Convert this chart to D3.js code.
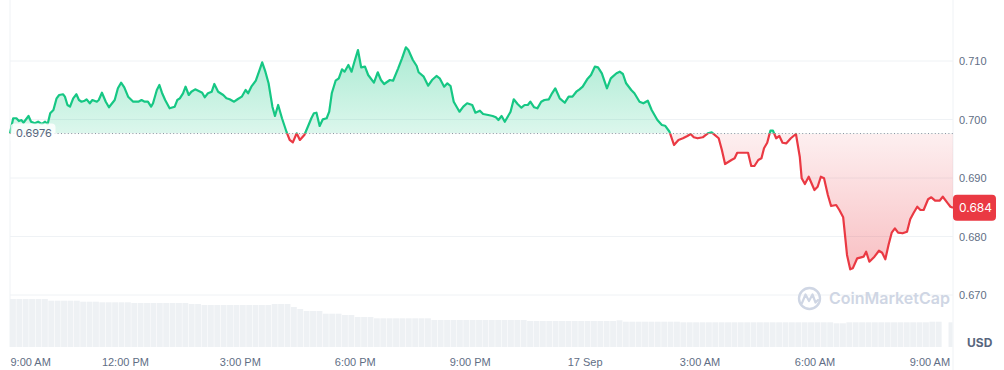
<!DOCTYPE html>
<html>
<head>
<meta charset="utf-8">
<script src="https://cdn.jsdelivr.net/npm/d3@7"></script>
<style>
  body { margin: 0; background: #fff; }
  svg { display: block; font-family: Inter, "Noto Sans", sans-serif; }
</style>
</head>
<body>
<div id="chart"></div>
<script>
// price track, minutes after 9:00 AM on 16 Sep
var minutes = [
  0, 5, 10, 14, 18, 21, 29, 33, 39, 44, 50, 55, 59, 63, 68, 73, 77, 83, 86, 90,
  94, 99, 104, 108, 112, 117, 120, 125, 129, 136, 139, 144, 150, 155, 164, 169, 174, 179, 185, 193,
  201, 206, 211, 216, 221, 224, 230, 234, 238, 243, 250, 258, 262, 266, 271, 275, 280, 284, 290, 298,
  301, 305, 310, 316, 320, 326, 334, 339, 344, 351, 357, 363, 369, 373, 378, 385, 390, 395, 400, 405,
  411, 415, 420, 426, 433, 438, 443, 449, 454, 461, 467, 472, 476, 480, 485, 490, 496, 500, 504, 510,
  515, 520, 524, 530, 535, 539, 545, 550, 556, 561, 570, 576, 581, 586, 595, 600, 608, 614, 620, 624,
  631, 637, 640, 648, 655, 661, 668, 673, 680, 685, 690, 695, 704, 710, 716, 724, 729, 736, 741, 749,
  756, 761, 765, 770, 775, 784, 789, 795, 801, 806, 811, 815, 821, 826, 832, 837, 844, 849, 854, 861,
  869, 875, 881, 887, 892, 897, 904, 910, 916, 921, 927, 935, 941, 944, 950, 955, 960, 965, 973, 978,
  986, 992, 999, 1005, 1014, 1021, 1026, 1033, 1040, 1047, 1054, 1061, 1066, 1071, 1077, 1085, 1093, 1099, 1110, 1115,
  1120, 1130, 1135, 1139, 1148, 1156, 1161, 1166, 1172, 1177, 1181, 1186, 1191, 1195, 1200, 1205, 1210, 1216, 1223, 1231,
  1237, 1240, 1245, 1251, 1260, 1265, 1270, 1275, 1281, 1286, 1294, 1299, 1305, 1311, 1316, 1320, 1327, 1333, 1337, 1341,
  1346, 1354, 1361, 1366, 1371, 1376, 1381, 1386, 1391, 1398, 1405, 1410, 1415, 1421, 1426, 1431, 1438, 1443, 1449, 1456,
  1461, 1468, 1473, 1477];
var prices = [
  0.69760, 0.70021, 0.70021, 0.69974, 0.69991, 0.69945, 0.70060, 0.69962, 0.69935, 0.69962, 0.69923, 0.69962, 0.69923, 0.70106, 0.70162, 0.70362, 0.70419, 0.70431, 0.70390, 0.70248,
  0.70219, 0.70362, 0.70431, 0.70333, 0.70304, 0.70321, 0.70345, 0.70277, 0.70333, 0.70304, 0.70333, 0.70458, 0.70304, 0.70209, 0.70333, 0.70533, 0.70629, 0.70550, 0.70390, 0.70304,
  0.70304, 0.70333, 0.70304, 0.70304, 0.70219, 0.70277, 0.70504, 0.70590, 0.70458, 0.70333, 0.70191, 0.70219, 0.70333, 0.70362, 0.70448, 0.70561, 0.70419, 0.70475, 0.70516, 0.70475,
  0.70458, 0.70379, 0.70448, 0.70475, 0.70607, 0.70475, 0.70419, 0.70362, 0.70345, 0.70304, 0.70350, 0.70390, 0.70504, 0.70448, 0.70561, 0.70663, 0.70817, 0.70978, 0.70817, 0.70619,
  0.70219, 0.70060, 0.70248, 0.70021, 0.69791, 0.69650, 0.69610, 0.69764, 0.69650, 0.69735, 0.69889, 0.70021, 0.70106, 0.70116, 0.69889, 0.70003, 0.70021, 0.70133, 0.70448, 0.70663,
  0.70704, 0.70858, 0.70817, 0.70932, 0.70817, 0.70971, 0.71188, 0.70892, 0.70903, 0.70761, 0.70629, 0.70807, 0.70675, 0.70607, 0.70675, 0.70663, 0.70875, 0.71046, 0.71234, 0.71188,
  0.71017, 0.70915, 0.70807, 0.70732, 0.70578, 0.70675, 0.70744, 0.70704, 0.70561, 0.70619, 0.70573, 0.70304, 0.70133, 0.70219, 0.70277, 0.70248, 0.70116, 0.70150, 0.70094, 0.70077,
  0.70060, 0.70038, 0.69991, 0.70060, 0.69962, 0.70133, 0.70345, 0.70265, 0.70202, 0.70248, 0.70248, 0.70304, 0.70209, 0.70191, 0.70304, 0.70333, 0.70345, 0.70448, 0.70533, 0.70362,
  0.70287, 0.70390, 0.70390, 0.70475, 0.70516, 0.70561, 0.70687, 0.70761, 0.70903, 0.70892, 0.70790, 0.70533, 0.70704, 0.70732, 0.70790, 0.70817, 0.70778, 0.70619, 0.70504, 0.70448,
  0.70304, 0.70277, 0.70321, 0.70162, 0.69991, 0.69906, 0.69894, 0.69791, 0.69564, 0.69650, 0.69679, 0.69718, 0.69752, 0.69696, 0.69679, 0.69696, 0.69764, 0.69781, 0.69679, 0.69479,
  0.69239, 0.69308, 0.69337, 0.69432, 0.69432, 0.69432, 0.69205, 0.69205, 0.69308, 0.69337, 0.69508, 0.69603, 0.69809, 0.69809, 0.69679, 0.69718, 0.69603, 0.69593, 0.69679, 0.69752,
  0.69364, 0.68995, 0.68897, 0.69022, 0.68795, 0.68851, 0.69022, 0.68995, 0.68709, 0.68521, 0.68538, 0.68453, 0.68328, 0.67684, 0.67439, 0.67456, 0.67627, 0.67644, 0.67655, 0.67740,
  0.67569, 0.67655, 0.67757, 0.67723, 0.67610, 0.67855, 0.68065, 0.68140, 0.68065, 0.68055, 0.68082, 0.68294, 0.68397, 0.68509, 0.68453, 0.68453, 0.68636, 0.68670, 0.68612, 0.68612,
  0.68680, 0.68578, 0.68509, 0.68490];
var openPrice = 0.6976;

// rolling 24h volume (millions), one bar per 10 minutes
var volumes = [
  480, 480, 480, 480, 480, 480, 463, 463, 463, 463, 463, 453, 453, 453, 447, 447, 447, 447, 447, 440,
  440, 440, 440, 440, 440, 440, 440, 440, 430, 430, 420, 420, 420, 420, 420, 420, 420, 420, 420, 420,
  420, 430, 430, 430, 400, 380, 360, 360, 360, 333, 333, 333, 320, 320, 300, 300, 300, 287, 287, 287,
  287, 287, 287, 287, 287, 287, 270, 270, 270, 270, 270, 270, 270, 270, 270, 270, 270, 270, 270, 270,
  270, 260, 260, 260, 260, 260, 260, 260, 260, 260, 260, 260, 260, 260, 260, 267, 253, 253, 253, 253,
  253, 253, 253, 253, 253, 247, 247, 247, 247, 247, 247, 247, 247, 247, 247, 247, 247, 247, 247, 247,
  247, 247, 247, 247, 247, 247, 247, 247, 247, 237, 237, 247, 247, 247, 247, 247, 247, 247, 247, 247,
  247, 247, 247, 247, 253, 253, 0, 247];
var volStep = 10;

var priceTicks = [0.670, 0.680, 0.690, 0.700, 0.710];
var timeTickMinutes = [0, 180, 360, 540, 720, 900, 1080, 1260, 1440];
var timeLabels = ["9:00 AM", "12:00 PM", "3:00 PM", "6:00 PM", "9:00 PM", "17 Sep", "3:00 AM", "6:00 AM", "9:00 AM"];

var width = 1004, height = 370;
var left = 10, right = 953;
var start = new Date(2024, 8, 16, 9, 0);
function at(m) { return new Date(start.getTime() + m * 60000); }

var x = d3.scaleTime().domain([start, at(1477)]).range([left, right]);
var y = d3.scaleLinear().domain([0.670, 0.710]).range([295, 61]);
var yv = d3.scaleLinear().domain([0, 490]).range([347, 298]);

var green = "#16c784", red = "#ea3943", grid = "#eff2f5", textGray = "#616e85";

var svg = d3.select("#chart").append("svg")
  .attr("width", width)
  .attr("height", height);

var defs = svg.append("defs");
var yBase = y(openPrice);

// gradients for the two fills
var gUp = defs.append("linearGradient").attr("id", "gUp")
  .attr("gradientUnits", "userSpaceOnUse")
  .attr("x1", 0).attr("x2", 0).attr("y1", y(d3.max(prices))).attr("y2", yBase);
gUp.append("stop").attr("offset", 0).attr("stop-color", green).attr("stop-opacity", 0.36);
gUp.append("stop").attr("offset", 1).attr("stop-color", green).attr("stop-opacity", 0.15);

var gDown = defs.append("linearGradient").attr("id", "gDown")
  .attr("gradientUnits", "userSpaceOnUse")
  .attr("x1", 0).attr("x2", 0).attr("y1", yBase).attr("y2", y(d3.min(prices)));
gDown.append("stop").attr("offset", 0).attr("stop-color", red).attr("stop-opacity", 0.08);
gDown.append("stop").attr("offset", 1).attr("stop-color", red).attr("stop-opacity", 0.32);

defs.append("clipPath").attr("id", "above")
  .append("rect").attr("x", 0).attr("y", 0).attr("width", width).attr("height", yBase);
defs.append("clipPath").attr("id", "below")
  .append("rect").attr("x", 0).attr("y", yBase).attr("width", width).attr("height", height - yBase);

// grid lines
svg.selectAll(".grid").data(priceTicks).enter().append("line")
  .attr("x1", left).attr("x2", right)
  .attr("y1", function (d) { return y(d); })
  .attr("y2", function (d) { return y(d); })
  .attr("stroke", grid).attr("stroke-width", 1);

svg.append("line").attr("x1", left).attr("x2", left).attr("y1", 0).attr("y2", 347)
  .attr("stroke", grid);
svg.append("line").attr("x1", right).attr("x2", right).attr("y1", 0).attr("y2", height)
  .attr("stroke", grid);

// volume bars
svg.selectAll(".vol").data(volumes).enter().append("rect")
  .attr("x", function (d, i) { return x(at(i * volStep)); })
  .attr("y", function (d) { return yv(d); })
  .attr("width", function (d, i) { return Math.max(0, Math.min(right, x(at((i + 1) * volStep))) - x(at(i * volStep)) - 0.5); })
  .attr("height", function (d) { return yv(0) - yv(d); })
  .attr("fill", "#eef1f4");

var pts = minutes.map(function (m, i) { return [m, prices[i]]; });

var area = d3.area()
  .x(function (d) { return x(at(d[0])); })
  .y0(yBase)
  .y1(function (d) { return y(d[1]); });
var line = d3.line()
  .x(function (d) { return x(at(d[0])); })
  .y(function (d) { return y(d[1]); });

svg.append("path").datum(pts).attr("d", area)
  .attr("fill", "url(#gUp)").attr("clip-path", "url(#above)");
svg.append("path").datum(pts).attr("d", area)
  .attr("fill", "url(#gDown)").attr("clip-path", "url(#below)");

// open price dotted line
svg.append("line").attr("x1", left).attr("x2", right)
  .attr("y1", yBase).attr("y2", yBase)
  .attr("stroke", "#8a93a3").attr("stroke-width", 1)
  .attr("stroke-dasharray", "1 2.4");

svg.append("path").datum(pts).attr("d", line)
  .attr("fill", "none").attr("stroke", green).attr("stroke-width", 2.2)
  .attr("stroke-linejoin", "round").attr("clip-path", "url(#above)");
svg.append("path").datum(pts).attr("d", line)
  .attr("fill", "none").attr("stroke", red).attr("stroke-width", 2.2)
  .attr("stroke-linejoin", "round").attr("clip-path", "url(#below)");

// open price tag
svg.append("rect").attr("x", 10.5).attr("y", yBase - 10).attr("width", 45).attr("height", 20)
  .attr("rx", 4).attr("fill", "#fff").attr("fill-opacity", 0.82);
svg.append("text").attr("x", 16).attr("y", yBase).attr("dy", "0.35em")
  .attr("font-size", 11).attr("fill", "#58667e")
  .text(d3.format(".4f")(openPrice));

// y axis on the right
var yAxis = svg.append("g").attr("transform", "translate(" + right + ",0)")
  .call(d3.axisRight(y).tickValues(priceTicks).tickFormat(d3.format(".3f")).tickSize(0).tickPadding(6));
yAxis.select(".domain").remove();
yAxis.selectAll("text").attr("font-size", 11).attr("font-family", null).attr("fill", textGray);

// x axis
var xAxis = svg.append("g").attr("transform", "translate(0,350)")
  .call(d3.axisBottom(x).tickValues(timeTickMinutes.map(at))
    .tickFormat(function (d, i) { return timeLabels[i]; }).tickSize(0).tickPadding(8));
xAxis.select(".domain").remove();
xAxis.selectAll("text").attr("font-size", 11).attr("font-family", null).attr("fill", textGray)
  .attr("text-anchor", function (d, i) { return i === 0 ? "start" : "middle"; });

svg.append("text").attr("x", 967).attr("y", 347)
  .attr("font-size", 12).attr("font-weight", 700).attr("fill", "#58667e").text("USD");

// last price tag
var last = prices[prices.length - 1];
var yLast = y(last);
svg.append("rect").attr("x", right).attr("y", yLast - 13).attr("width", 43).attr("height", 26)
  .attr("rx", 4).attr("fill", red);
svg.append("text").attr("x", 959).attr("y", yLast).attr("dy", "0.35em")
  .attr("font-size", 12).attr("fill", "#fff")
  .text((Math.floor(last * 1000) / 1000).toFixed(3));

// watermark
var wm = svg.append("g").attr("fill", "none").attr("stroke", "#cfd6e4");
wm.append("circle").attr("cx", 809.5).attr("cy", 298.5).attr("r", 10.5).attr("stroke-width", 2.4);
wm.append("path").attr("d", "M802,303 L805.5,294.5 L809,301 L812.5,294.5 L815.5,302.5 L818,300")
  .attr("stroke-width", 2.2).attr("stroke-linejoin", "round").attr("stroke-linecap", "round");
svg.append("text").attr("x", 829).attr("y", 304)
  .attr("font-size", 16).attr("font-weight", 600).attr("fill", "#cfd6e4")
  .text("CoinMarketCap");
</script>
</body>
</html>
